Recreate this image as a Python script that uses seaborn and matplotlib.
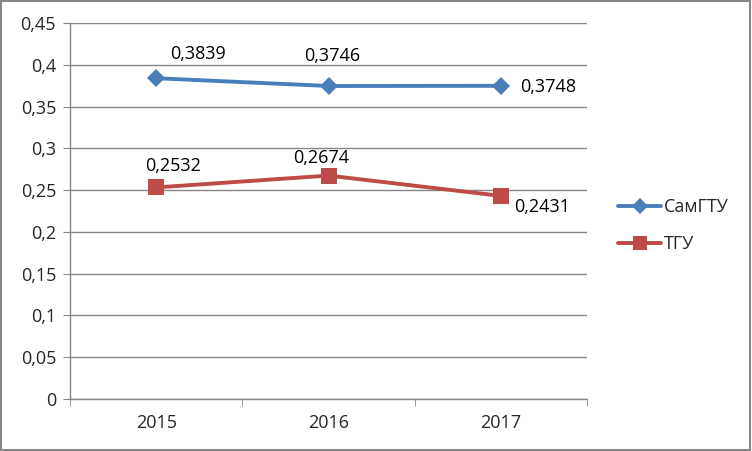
import seaborn as sns
import matplotlib.pyplot as plt
import pandas as pd
from matplotlib.ticker import FuncFormatter, FixedLocator

sns.set_style("white")
plt.rcParams['font.family'] = ['Open Sans', 'DejaVu Sans']

years = ["2015", "2016", "2017"]
samgtu = [0.3839, 0.3746, 0.3748]
tgu = [0.2532, 0.2674, 0.2431]
series_names = ["СамГТУ", "ТГУ"]
colors = ["#4A7EBB", "#BE4B48"]

df = pd.DataFrame({
    "pos": list(range(3)) * 2,
    "value": samgtu + tgu,
    "series": [series_names[0]] * 3 + [series_names[1]] * 3,
})

fig = plt.figure(figsize=(7.52, 4.51), dpi=100)
fig.patches.append(plt.Rectangle((0.001, 0.002), 0.997, 0.995, transform=fig.transFigure,
                                 fill=False, edgecolor="#878787", linewidth=1.5))
ax = fig.add_axes([0.0931, 0.1153, 0.6875, 0.8337])

sns.lineplot(data=df, x="pos", y="value", hue="series", style="series",
             markers={"СамГТУ": "D", "ТГУ": "s"}, dashes=False,
             palette=dict(zip(series_names, colors)), linewidth=2.8,
             markersize=9, markeredgewidth=0, ax=ax, legend=False)
ax.lines[0].set_markersize(9)
ax.lines[1].set_markersize(11)

ax.set_xlim(-0.5, 2.5)
ax.set_ylim(0, 0.45)
ax.set_yticks([i * 0.05 for i in range(10)])
ax.yaxis.set_major_formatter(FuncFormatter(lambda v, p: ("%g" % round(v, 2)).replace(".", ",")))
ax.set_xticks(range(3))
ax.set_xticklabels(years)
ax.xaxis.set_minor_locator(FixedLocator([-0.5, 0.5, 1.5, 2.5]))
ax.tick_params(axis="x", which="major", length=0, pad=11, labelsize=13)
ax.tick_params(axis="x", which="minor", length=5, color="#868686", direction="out", bottom=True)
ax.tick_params(axis="y", length=5, color="#868686", direction="out", left=True, pad=5, labelsize=13)
ax.set_xlabel("")
ax.set_ylabel("")
ax.grid(axis="y", color="#868686", linewidth=1)
for s in ["top", "right"]:
    ax.spines[s].set_visible(False)
for s in ["left", "bottom"]:
    ax.spines[s].set_color("#868686")
    ax.spines[s].set_linewidth(1)

fmt = lambda v: ("%.4f" % v).replace(".", ",")
offsets_blue = [(42, 24, "center"), (4, 30, "center"), (19, -1, "left")]
offsets_red = [(17, 21, "center"), (-7, 18, "center"), (13, -11, "left")]
for vals, offs in [(samgtu, offsets_blue), (tgu, offsets_red)]:
    for i, v in enumerate(vals):
        dx, dy, ha = offs[i]
        ax.annotate(fmt(v), (i, v), xytext=(dx, dy), textcoords="offset pixels",
                    ha=ha, va="center", fontsize=13, color="black")

handles = [plt.Line2D([], [], color=colors[0], marker="D", markersize=8, linewidth=2.8, markeredgewidth=0),
           plt.Line2D([], [], color=colors[1], marker="s", markersize=10, linewidth=2.8, markeredgewidth=0)]
fig.legend(handles, series_names, loc="center left", bbox_to_anchor=(0.80, 0.50),
           frameon=False, fontsize=13, handlelength=2.4, handletextpad=0.15, labelspacing=1.05)

fig.savefig("out.png", dpi=100)
plt.close()
